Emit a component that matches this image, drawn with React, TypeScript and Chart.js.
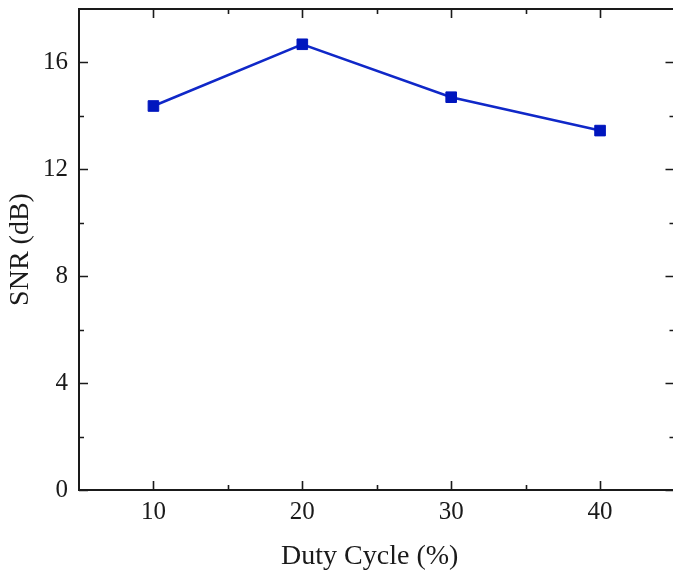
import React, { useEffect, useRef } from "react";
import { Chart, registerables } from "chart.js";

Chart.register(...registerables);

const dutyCycle = [10, 20, 30, 40];
const snr = [14.37, 16.68, 14.7, 13.45];
const xMajorTicks = [10, 20, 30, 40];
const xMinorTicks = [15, 25, 35];
const yMajorTicks = [0, 4, 8, 12, 16];
const yMinorTicks = [2, 6, 10, 14];

const AXIS_COLOR = "#1a1a1a";
const FONT = "'Liberation Serif', 'Times New Roman', serif";

const frameTicks = {
  id: "frameTicks",
  afterDraw(chart: any) {
    const { ctx, chartArea } = chart;
    const xs = chart.scales.x;
    const ys = chart.scales.y;
    ctx.save();
    ctx.strokeStyle = AXIS_COLOR;
    ctx.lineWidth = 2;
    ctx.beginPath();
    ctx.moveTo(chartArea.left - 1, chartArea.top);
    ctx.lineTo(chartArea.right + 1, chartArea.top);
    ctx.stroke();
    ctx.beginPath();
    ctx.moveTo(chartArea.right, chartArea.top);
    ctx.lineTo(chartArea.right, chartArea.bottom);
    ctx.stroke();
    ctx.lineWidth = 1.6;
    const drawX = (v: number, len: number) => {
      const px = Math.round(xs.getPixelForValue(v)) + 0.5;
      ctx.beginPath();
      ctx.moveTo(px, chartArea.bottom);
      ctx.lineTo(px, chartArea.bottom - len);
      ctx.moveTo(px, chartArea.top);
      ctx.lineTo(px, chartArea.top + len);
      ctx.stroke();
    };
    const drawY = (v: number, len: number) => {
      const py = Math.round(ys.getPixelForValue(v)) + 0.5;
      ctx.beginPath();
      ctx.moveTo(chartArea.left, py);
      ctx.lineTo(chartArea.left + len, py);
      ctx.moveTo(chartArea.right, py);
      ctx.lineTo(chartArea.right - len, py);
      ctx.stroke();
    };
    xMajorTicks.forEach((v) => drawX(v, 9));
    xMinorTicks.forEach((v) => drawX(v, 5));
    yMajorTicks.forEach((v) => drawY(v, 9));
    yMinorTicks.forEach((v) => drawY(v, 5));
    ctx.restore();
  },
};

const zeroPad = (s: any) => {
  s.paddingTop = 0;
  s.paddingBottom = 0;
  s.paddingLeft = 0;
  s.paddingRight = 0;
};

export default function App() {
  const ref = useRef<HTMLCanvasElement>(null);
  useEffect(() => {
    document.body.style.margin = "0";
    const chart = new Chart(ref.current!, {
      type: "line",
      data: {
        datasets: [
          {
            data: dutyCycle.map((x, i) => ({ x, y: snr[i] })),
            borderColor: "#1028c8",
            backgroundColor: "#0016be",
            borderWidth: 2.5,
            pointStyle: "rect",
            pointRadius: 7.5,
            pointBorderWidth: 1,
            pointBorderColor: "#0016be",
            pointBackgroundColor: "#0016be",
            tension: 0,
          },
        ],
      },
      options: {
        animation: false,
        responsive: true,
        maintainAspectRatio: false,
        layout: { padding: { top: 9, right: 0, left: 0, bottom: 0 } },
        plugins: { legend: { display: false }, tooltip: { enabled: false } },
        scales: {
          x: {
            type: "linear",
            min: 5,
            max: 45,
            grid: { display: false, drawTicks: false },
            border: { display: true, width: 2, color: AXIS_COLOR },
            afterBuildTicks: (s: any) => {
              s.ticks = xMajorTicks.map((v) => ({ value: v }));
            },
            afterFit: (s: any) => {
              s.height = 81;
              zeroPad(s);
            },
            ticks: {
              font: { family: FONT, size: 25 },
              color: AXIS_COLOR,
              padding: 7.5,
              maxRotation: 0,
            },
            title: {
              display: true,
              text: "Duty Cycle (%)  ",
              font: { family: FONT, size: 28, lineHeight: 1.04 },
              color: AXIS_COLOR,
              padding: { top: 0, bottom: 0 },
            },
          },
          y: {
            type: "linear",
            min: 0,
            max: 18,
            grid: { display: false, drawTicks: false },
            border: { display: true, width: 2, color: AXIS_COLOR },
            afterBuildTicks: (s: any) => {
              s.ticks = yMajorTicks.map((v) => ({ value: v }));
            },
            afterFit: (s: any) => {
              s.width = 79;
              zeroPad(s);
            },
            ticks: {
              font: { family: FONT, size: 25 },
              color: AXIS_COLOR,
              padding: 11,
            },
            title: {
              display: true,
              text: "SNR (dB)",
              font: { family: FONT, size: 28, lineHeight: 1.04 },
              color: AXIS_COLOR,
              padding: { top: 6.5, bottom: 0 },
            },
          },
        },
      },
      plugins: [frameTicks],
    });
    return () => chart.destroy();
  }, []);
  return (
    <div
      style={{
        position: "absolute",
        left: 0,
        top: 0,
        width: 673,
        height: 571,
        overflow: "hidden",
        background: "#fff",
      }}
    >
      <div style={{ position: "relative", width: 683, height: 571 }}>
        <canvas ref={ref} />
      </div>
    </div>
  );
}
